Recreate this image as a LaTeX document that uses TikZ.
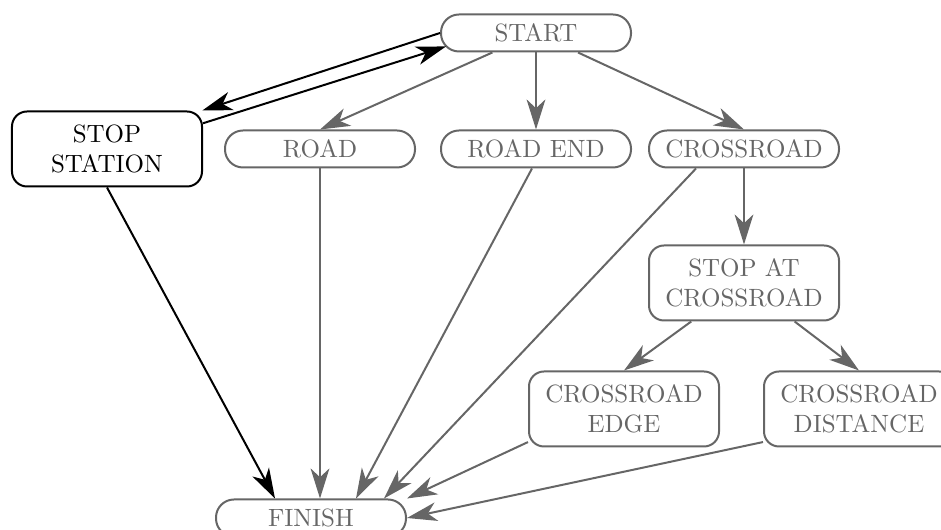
\documentclass[tikz,border=0pt]{standalone}
\usetikzlibrary{positioning,arrows.meta,calc}

\begin{document}
\begin{tikzpicture}[x=0.4pt, y=-0.4pt, >={Stealth[length=12pt, width=7.5pt, inset=3.5pt]},
    pill/.style={draw=black!60, text=black!60, line width=0.8pt, rounded corners=7.2pt,
        minimum width=76pt, minimum height=14.8pt, inner sep=0pt},
    tallbox/.style={pill, rounded corners=6pt, minimum height=30pt, align=center},
    flow/.style={->, draw=black!60, line width=0.8pt},
    flowdark/.style={->, draw=black, line width=0.8pt}]
    % Cadre
    \useasboundingbox (0,0) rectangle (941,530);
    \clip (0,0) rectangle (941,530);

    % Noeuds
    \node[pill] (start) at (536,33) {START};
    \node[tallbox, draw=black, text=black] (station) at (107,149) {STOP\\STATION};
    \node[pill] (road) at (320,149) {ROAD};
    \node[pill] (roadend) at (536,149) {ROAD END};
    \node[pill] (crossroad) at (744,149) {CROSSROAD};
    \node[tallbox] (stopat) at (744,283) {STOP AT\\CROSSROAD};
    \node[tallbox] (edge) at (624,409) {CROSSROAD\\EDGE};
    \node[tallbox] (distance) at (859,409) {CROSSROAD\\DISTANCE};
    \node[pill] (finish) at (311,518) {FINISH};

    % Start <-> Stop station
    \draw[flowdark] (start.west) -- (station.22);
    \draw[flowdark] (station.15) -- ($(start.188)+(6,0)$);

    % Depuis Start
    \draw[flow] (start) -- (road.north);
    \draw[flow] (start) -- (roadend);
    \draw[flow] (start) -- (crossroad.north);

    % Crossroad
    \draw[flow] (crossroad) -- (stopat);
    \draw[flow] (stopat) -- (edge.north);
    \draw[flow] (stopat) -- (distance.north);

    % Vers Finish
    \draw[flowdark] (station.south) -- ($(finish.north)+(-36,0)$);
    \draw[flow] (road.south) -- (road.south |- finish.north);
    \draw[flow] ($(roadend.south)+(-4,0)$) -- ($(finish.north)+(45,0)$);
    \draw[flow] ($(crossroad.south)+(-48,0)$) -- ($(finish.north)+(73,0)$);
    \draw[flow] (edge.199) -- (finish.north east);
    \draw[flow] (distance.199) -- (finish.east);

\end{tikzpicture}
\end{document}
